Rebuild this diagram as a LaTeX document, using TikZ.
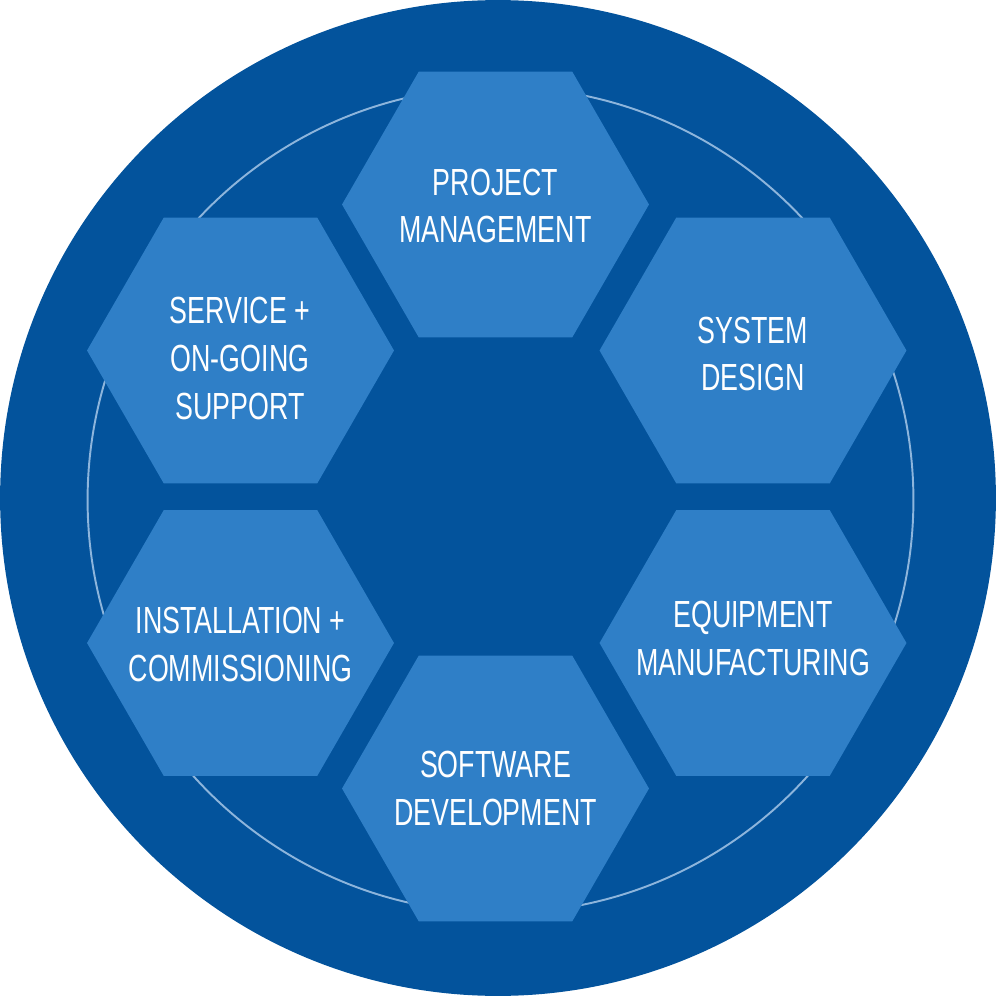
\documentclass[tikz,border=0pt]{standalone}
\usepackage{fontspec}
\setmainfont{Liberation Sans}[FakeStretch=0.71]
\usetikzlibrary{shapes.geometric}
\definecolor{ringblue}{HTML}{03539C}
\definecolor{hexblue}{HTML}{2F7FC7}
\definecolor{ringline}{HTML}{8DB5DC}
\begin{document}
\begin{tikzpicture}[x=0.02cm,y=-0.02cm,
  hexbox/.style={regular polygon, regular polygon sides=6, minimum size=6.14cm,
    inner sep=0pt, outer sep=0pt, fill=hexblue, draw=none},
  hextext/.style={text=white, align=center, inner sep=0pt,
    font=\fontsize{21.5pt}{27.3pt}\selectfont}]
  \useasboundingbox (0,0) rectangle (996,996);
  % outer disc and thin inner ring
  \fill[ringblue] (498,498) circle[radius=9.96cm];
  \draw[ringline, line width=1.1pt] (500.5,500) circle[radius=8.26cm];
  % service stages
  \node[hexbox] (pm) at (495.5,204.5) {};
  \node[hexbox] (sd) at (753,350.5) {};
  \node[hexbox] (em) at (753,643) {};
  \node[hexbox] (sw) at (495.5,788.5) {};
  \node[hexbox] (ic) at (240.5,643) {};
  \node[hexbox] (sv) at (240.5,350.5) {};
  % stage names
  \node[hextext] (pmt) at (495.5,206) {PROJECT\\MANAGEMENT};
  \node[hextext] (sdt) at (753,354) {SYSTEM\\DESIGN};
  \node[hextext] (emt) at (753,638.5) {EQUIPMENT\\MANUFACTURING};
  \node[hextext] (swt) at (495.5,788.5) {SOFTWARE\\DEVELOPMENT};
  \node[hextext] (ict) at (240.5,644.5) {INSTALLATION +\\COMMISSIONING};
  \node[hextext] (svt) at (240,358.5) {SERVICE +\\ON-GOING\\SUPPORT};
\end{tikzpicture}
\end{document}
